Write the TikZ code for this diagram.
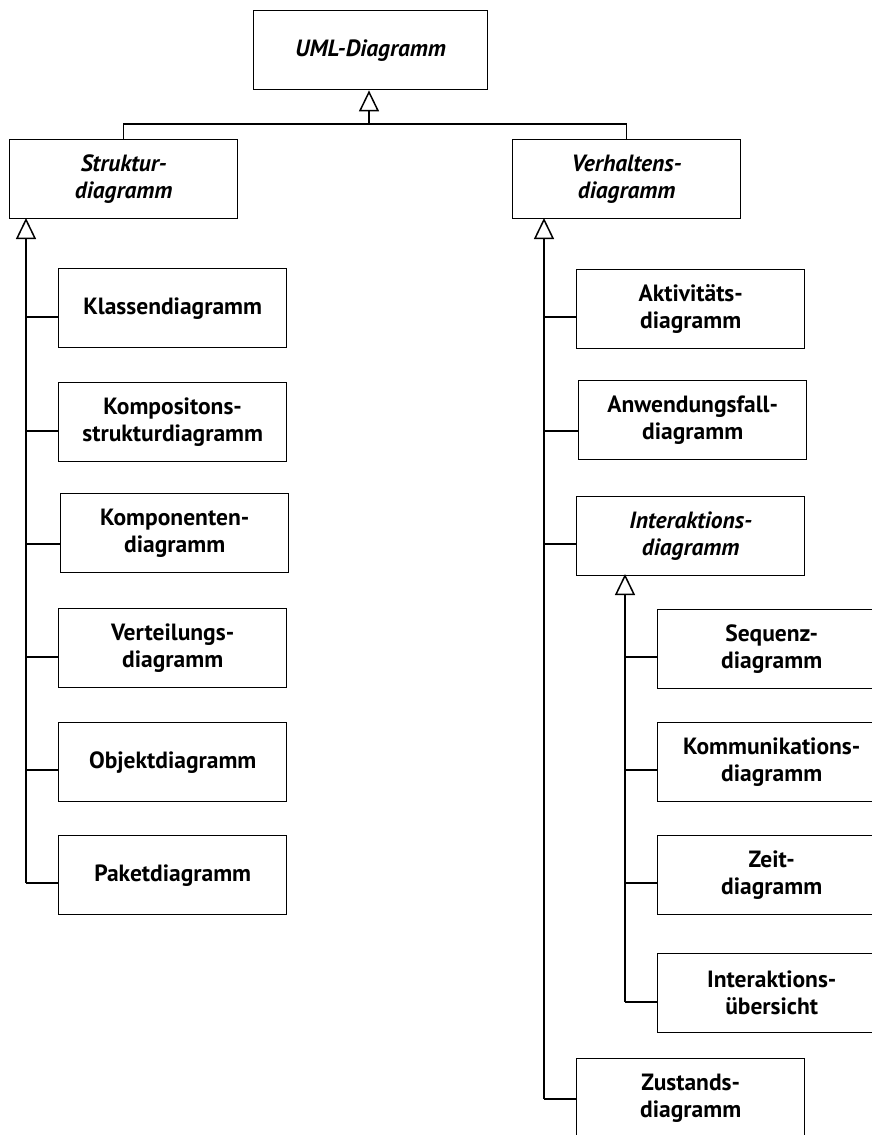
\documentclass[tikz,border=0pt]{standalone}
\usepackage{fontspec}
\setmainfont{PT Sans}
\usetikzlibrary{arrows.meta}
\begin{document}
\begin{tikzpicture}[x=1pt,y=-1pt,
  box/.style={draw, line width=1.4pt, anchor=north west, minimum width=228pt, minimum height=79pt,
    align=center, inner sep=0pt, font=\fontsize{23.5}{27}\selectfont\bfseries},
  abox/.style={box, font=\fontsize{23.5}{27}\selectfont\bfseries\itshape},
  trunk/.style={line width=1.8pt, -{Triangle[open, length=21pt, width=20pt, line width=1.5pt]}},
  stub/.style={line width=1.3pt}]
\useasboundingbox (0,0) rectangle (872,1135);
% top level
\node[abox, minimum width=234pt] (uml) at (253,10) {UML-Diagramm};
\node[abox] (s) at (9,139) {Struktur-\\diagramm};
\node[abox] (v) at (512,139) {Verhaltens-\\diagramm};
\coordinate (bar) at (369,124);
\draw[trunk] (bar) -- (bar |- uml.south);
\draw[stub] (s.north) |- (bar) -| (v.north);
% structure diagrams
\node[box] (k1) at (58,268) {Klassendiagramm};
\node[box] (k2) at (58,382) {Kompositons-\\strukturdiagramm};
\node[box] (k3) at (60,493) {Komponenten-\\diagramm};
\node[box] (k4) at (58,608) {Verteilungs-\\diagramm};
\node[box] (k5) at (58,722) {Objektdiagramm};
\node[box] (k6) at (58,835) {Paketdiagramm};
\coordinate (sA) at (26,218);
\coordinate (sEnd) at (26,883);
\draw[trunk] (sEnd) -- (sA);
\foreach \n/\d in {k1/49,k2/49,k3/51,k4/49,k5/48,k6/48}{
  \path (\n.north west) ++(0,\d) coordinate (c\n);
  \draw[stub] (c\n) -- (c\n -| sA);
}
% behaviour diagrams
\node[box] (b1) at (576,269) {Aktivitäts-\\diagramm};
\node[box] (b2) at (578,380) {Anwendungsfall-\\diagramm};
\node[abox] (b3) at (576,496) {Interaktions-\\diagramm};
\node[box] (b4) at (576,1058) {Zustands-\\diagramm};
\coordinate (vA) at (544,218);
\coordinate (vEnd) at (544,1099);
\draw[trunk] (vEnd) -- (vA);
\foreach \n/\d in {b1/48,b2/51,b3/48,b4/41}{
  \path (\n.north west) ++(0,\d) coordinate (c\n);
  \draw[stub] (c\n) -- (c\n -| vA);
}
% interaction diagrams
\node[box] (i1) at (657,609) {Sequenz-\\diagramm};
\node[box] (i2) at (657,722) {Kommunikations-\\diagramm};
\node[box] (i3) at (657,835) {Zeit-\\diagramm};
\node[box] (i4) at (657,953) {Interaktions-\\übersicht};
\coordinate (iA) at (625,574);
\coordinate (iEnd) at (625,1002);
\draw[trunk] (iEnd) -- (iA);
\foreach \n/\d in {i1/48,i2/48,i3/48,i4/49}{
  \path (\n.north west) ++(0,\d) coordinate (c\n);
  \draw[stub] (c\n) -- (c\n -| iA);
}
\end{tikzpicture}
\end{document}
